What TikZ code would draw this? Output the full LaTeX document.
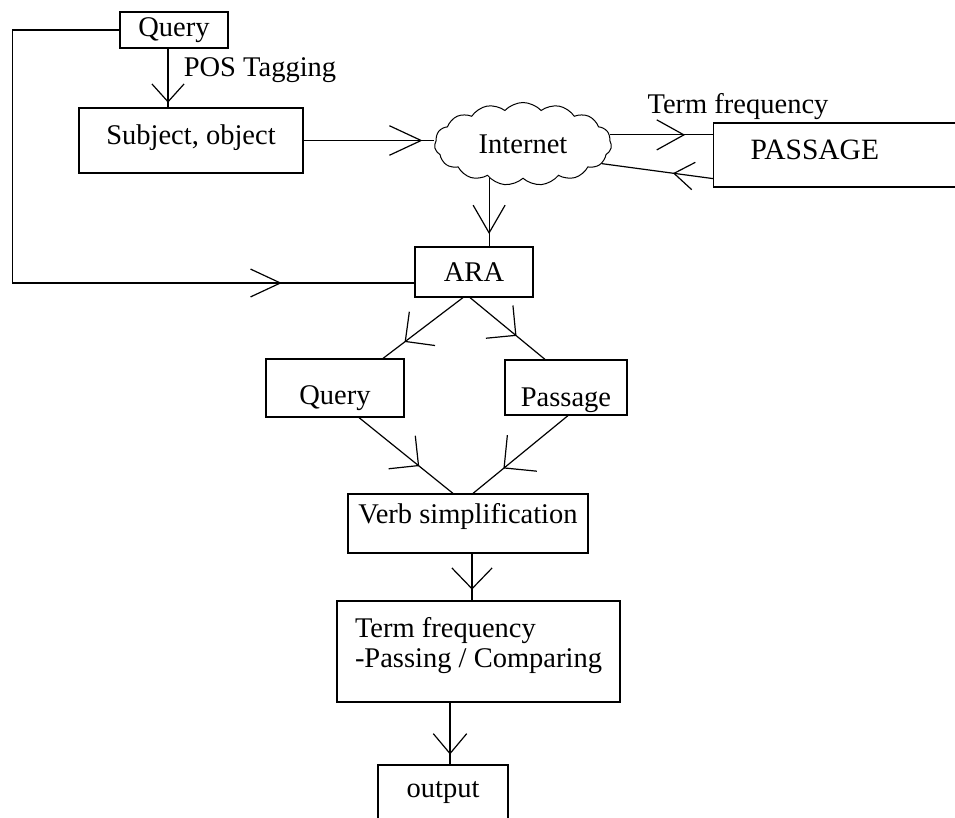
\documentclass[tikz,border=0pt]{standalone}
\usepackage{fontspec}
\setmainfont{Liberation Serif}
\usetikzlibrary{arrows.meta,decorations.markings,shapes.symbols}
\tikzset{
  box/.style={draw, line width=1.2pt, inner sep=2pt},
  midarrow/.style 2 args={postaction={decorate},
    decoration={markings, mark=at position #1 with {\arrow{Straight Barb[angle=#2]}}}}
}
\begin{document}
\begin{tikzpicture}[x=1pt,y=-1pt,line width=1.2pt,font=\fontsize{28.5}{30}\selectfont]
            \useasboundingbox (0,0) rectangle (955,818);
            \node[box, minimum width=108pt, minimum height=36pt] (query) at (174,30) {Query};
            \node[box, minimum width=224pt, minimum height=65pt, text height=20pt, text depth=12pt] (subj) at (191,140.5) {Subject, object};
            \node[cloud, draw, line width=1pt, cloud puffs=15, cloud puff arc=95, cloud ignores aspect,
                  minimum width=177pt, minimum height=83pt, inner sep=0pt] (net) at (523,144) {Internet};
            \node[box, anchor=west, text width=200pt, inner xsep=37pt, minimum height=64pt, text depth=10pt,
                  align=left, font=\fontsize{29.5}{30}\selectfont] (pass) at (713,155) {PASSAGE};
            \node[box, minimum width=118pt, minimum height=50pt] (ara) at (474,272) {ARA};
            \node[box, minimum width=138pt, minimum height=58pt, text height=39pt, text depth=6pt] (qry) at (335,388) {Query};
            \node[box, minimum width=122pt, minimum height=55pt, text height=44pt, text depth=6pt, inner ysep=1pt] (psg) at (566,387.5) {Passage};
            \node[box, minimum width=240pt, minimum height=59pt, text height=20pt, text depth=21pt] (verb) at (468,523.5) {Verb simplification};
            \node[box, minimum width=283pt, minimum height=101pt, align=left, text depth=18pt] (tf) at (478.5,651.5) {Term frequency\\-Passing / Comparing};
            \node[box, minimum width=130pt, minimum height=56pt] (out) at (443,793) {output};
            \node (pos) at (260,70) {POS Tagging};
            \node (tfreq) at (738,107) {Term frequency};
            % query to subject, and the long way round to ARA
            \draw[midarrow={0.92}{84:24pt}] ([xshift=-6pt]query.south) coordinate (qs) -- (qs |- subj.north);
            \draw[midarrow={0.826}{50:33pt}] (query.west) -- ++(-107,0) |- ([yshift=-11pt]ara.west);
            \draw[midarrow={0.91}{50:35pt}] (subj.east) -- (subj.east -| net.west);
            % internet and passage
            \draw[midarrow={0.82}{60:32pt}] (net.225) -- (net.225 |- ara.north);
            \draw[midarrow={0.73}{58:31pt}] (net.6) -- (net.6 -| pass.west);
            \draw[midarrow={0.36}{70:24pt}] ([yshift=9pt]pass.south west) -- (net.346);
            % ARA splits and joins again
            \draw[midarrow={0.73}{90:30pt}] ([xshift=-11pt]ara.south) -- ([xshift=48pt]qry.north);
            \draw[midarrow={0.62}{90:30pt}] ([xshift=-4pt]ara.south) -- ([xshift=-21pt]psg.north);
            \draw[midarrow={0.64}{90:30pt}] ([xshift=24pt]qry.south) -- ([xshift=-15pt]verb.north);
            \draw[midarrow={0.68}{90:33pt}] ([xshift=2pt]psg.south) -- ([xshift=5pt]verb.north);
            \draw[midarrow={0.77}{88:29pt}] ([xshift=4pt]verb.south) coordinate (vs) -- (vs |- tf.north);
            \draw[midarrow={0.84}{80:26pt}] ([xshift=-28.5pt]tf.south) coordinate (ts) -- (ts |- out.north);
        \end{tikzpicture}
\end{document}
